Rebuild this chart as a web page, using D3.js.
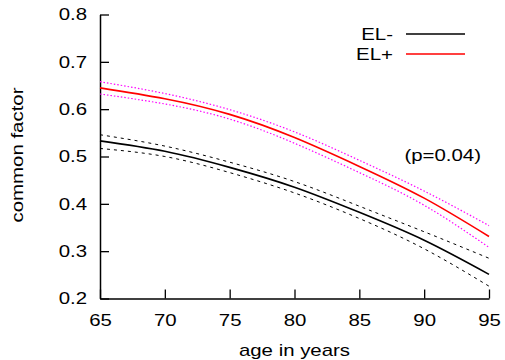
<!DOCTYPE html>
<html>
<head>
<meta charset="utf-8">
<script src="https://cdn.jsdelivr.net/npm/d3@7"></script>
<style>
  body { margin: 0; background: #fff; }
  text { font-family: "Liberation Sans", Arial, sans-serif; }
</style>
</head>
<body>
<div id="chart"></div>
<script>
// ages at which the curves were read
const ages = [65, 70, 75, 80, 85, 90, 95];

// EL- (black) estimate and confidence band
const elMinus = [0.533, 0.511, 0.477, 0.435, 0.382, 0.323, 0.251];
const elMinusHi = [0.546, 0.522, 0.488, 0.447, 0.395, 0.341, 0.285];
const elMinusLo = [0.517, 0.500, 0.466, 0.423, 0.369, 0.305, 0.226];

// EL+ (red) estimate and confidence band
const elPlus = [0.645, 0.622, 0.589, 0.540, 0.479, 0.412, 0.331];
const elPlusHi = [0.658, 0.633, 0.599, 0.552, 0.492, 0.427, 0.354];
const elPlusLo = [0.632, 0.611, 0.579, 0.528, 0.466, 0.397, 0.308];

const xTicks = [65, 70, 75, 80, 85, 90, 95];
const yTicks = [0.2, 0.3, 0.4, 0.5, 0.6, 0.7, 0.8];
const legendLabels = ['EL-', 'EL+'];

const W = 505, H = 360;
const margin = {top: 14.5, right: 16, bottom: 61.5, left: 100};
const width = W - margin.left - margin.right;
const height = H - margin.top - margin.bottom;
const fs = 17;

const svg = d3.select('#chart')
  .append('svg')
    .attr('width', W)
    .attr('height', H)
  .append('g')
    .attr('transform', 'translate(' + margin.left + ',' + margin.top + ')');

const x = d3.scaleLinear().domain([65, 95]).range([0, width]);
const y = d3.scaleLinear().domain([0.2, 0.8]).range([height, 0]);

// axes: ticks point into the plot
svg.append('g')
  .attr('transform', 'translate(0,' + height + ')')
  .call(d3.axisBottom(x).tickValues(xTicks).tickSizeInner(-9).tickSizeOuter(0).tickPadding(15.5))
  .call(g => g.select('.domain').attr('stroke-width', 1.5))
  .call(g => g.selectAll('.tick line').attr('stroke-width', 1.3))
  .call(g => g.selectAll('text').attr('font-size', fs).attr('fill', '#000'));

svg.append('g')
  .call(d3.axisLeft(y).tickValues(yTicks).tickFormat(d3.format('.1f')).tickSizeInner(-9).tickSizeOuter(0).tickPadding(13))
  .call(g => g.select('.domain').attr('stroke-width', 1.5))
  .call(g => g.selectAll('.tick line').attr('stroke-width', 1.3))
  .call(g => g.selectAll('text').attr('font-size', fs).attr('fill', '#000'));

const line = vals => d3.line()
  .x((d, i) => x(ages[i]))
  .y(d => y(d))
  .curve(d3.curveNatural)(vals);

const series = [
  {vals: elMinusHi, color: '#000', w: 1, dash: '3,4'},
  {vals: elMinusLo, color: '#000', w: 1, dash: '3,4'},
  {vals: elPlusHi, color: '#ff00ff', w: 1.2, dash: '1.5,2'},
  {vals: elPlusLo, color: '#ff00ff', w: 1.2, dash: '1.5,2'},
  {vals: elMinus, color: '#000', w: 1.6, dash: null},
  {vals: elPlus, color: '#ff0000', w: 1.6, dash: null}
];

svg.append('g')
  .selectAll('path')
  .data(series)
  .enter()
  .append('path')
    .attr('d', d => line(d.vals))
    .attr('fill', 'none')
    .attr('stroke', d => d.color)
    .attr('stroke-width', d => d.w)
    .attr('stroke-dasharray', d => d.dash);

// legend
const legend = svg.append('g');
const legendColors = ['#000', '#ff0000'];
legendLabels.forEach((lab, i) => {
  const ly = 19.5 + i * 20;
  legend.append('text')
    .attr('x', 293).attr('y', ly).attr('dy', '0.35em')
    .attr('text-anchor', 'end').attr('font-size', fs)
    .text(lab);
  legend.append('line')
    .attr('x1', 306).attr('x2', 365)
    .attr('y1', ly).attr('y2', ly)
    .attr('stroke', legendColors[i]).attr('stroke-width', 1.5);
});

svg.append('text')
  .attr('x', 381).attr('y', 140.5).attr('dy', '0.35em')
  .attr('text-anchor', 'end').attr('font-size', fs)
  .text('(p=0.04)');

// axis titles
svg.append('text')
  .attr('x', width / 2).attr('y', height + 57)
  .attr('text-anchor', 'middle').attr('font-size', fs)
  .text('age in years');

svg.append('text')
  .attr('transform', 'translate(' + (-77) + ',' + 140.5 + ') rotate(-90)')
  .attr('text-anchor', 'middle').attr('font-size', fs)
  .text('common factor');

// the original lettering is a bit wider than Arial: stretch along the text
svg.selectAll('text').each(function () {
  const len = this.getComputedTextLength();
  d3.select(this)
    .attr('textLength', len * 1.2)
    .attr('lengthAdjust', 'spacingAndGlyphs');
});
</script>
</body>
</html>
